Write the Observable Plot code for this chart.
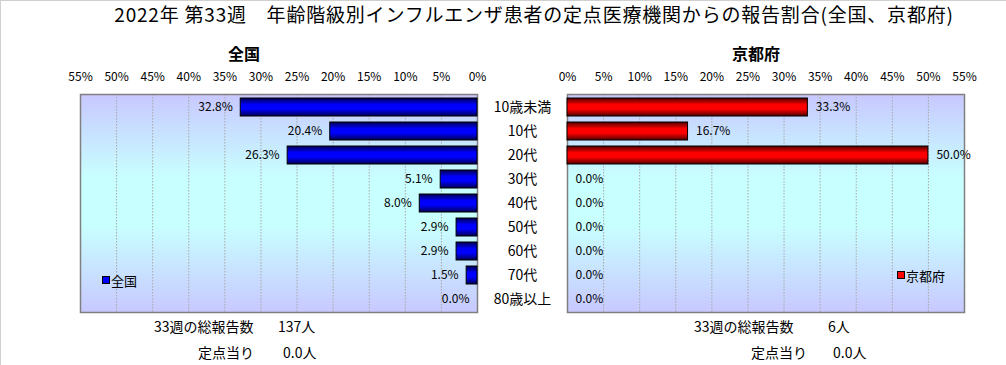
<!DOCTYPE html>
<html><head><meta charset="utf-8">
<script src="https://cdn.jsdelivr.net/npm/d3@7"></script>
<script src="https://cdn.jsdelivr.net/npm/@observablehq/plot@0.6"></script>
<style>
body{margin:0;background:#fff;font-family:"Noto Sans CJK JP","Noto Sans",sans-serif;color:#000;}
#wrap{position:relative;width:1005px;height:364px;overflow:hidden;border-left:1px solid #d0d0d0;border-top:1px solid #d0d0d0;}
.abs{position:absolute;white-space:nowrap;line-height:1;}
.plot{position:absolute;}
.sq{display:inline-block;width:6px;height:6px;border:1px solid #000;margin-right:1px;vertical-align:middle;position:relative;top:-2px;}
</style></head><body><div id="wrap"></div>
<script>
// ---- data ----
const ageGroups = ["10歳未満","10代","20代","30代","40代","50代","60代","70代","80歳以上"];
const nationalPct = [32.8, 20.4, 26.3, 5.1, 8.0, 2.9, 2.9, 1.5, 0.0];
const kyotoPct = [33.3, 16.7, 50.0, 0.0, 0.0, 0.0, 0.0, 0.0, 0.0];
const xTicks = [0, 5, 10, 15, 20, 25, 30, 35, 40, 45, 50, 55];
const titleText = "2022年 第33週\u3000年齢階級別インフルエンザ患者の定点医療機関からの報告割合(全国、京都府)";
const panelNames = ["全国", "京都府"];
const weekNo = 33;
const totalReports = [137, 6];
const perSentinel = [0.0, 0.0];

const FONT = '"Noto Sans CJK JP","Noto Sans",sans-serif';
const wrap = document.getElementById("wrap");

function addDefs(svg, grads) {
  const defs = d3.create("svg:defs");
  grads.forEach(([id, stops]) => {
    const g = defs.append("linearGradient").attr("id", id)
      .attr("x1", 0).attr("y1", 0).attr("x2", 0).attr("y2", 1);
    stops.forEach(([o, c]) => g.append("stop").attr("offset", o).attr("stop-color", c));
  });
  svg.insertBefore(defs.node(), svg.firstChild);
}
const bgStops = [[0, "#c8c8ff"], [0.38, "#c8ffff"], [0.6, "#c8ffff"], [1, "#c8c8ff"]];

function panel(values, side) {
  const rows = ageGroups.map((g, i) => ({g, v: values[i]}));
  const left = side === "left";
  const bgId = left ? "bgL" : "bgR";
  const barId = left ? "barL" : "barR";
  const marks = [
    Plot.frame({fill: `url(#${bgId})`, stroke: null}),
    Plot.ruleX(xTicks.filter(t => t > 0 && t < 55), {stroke: "#a8a8a8", strokeDasharray: "1.5,1.5", strokeWidth: 1}),
    Plot.frame({stroke: "#808080", strokeWidth: 1.5}),
    Plot.barX(rows, {x: "v", y: "g", fill: `url(#${barId})`, stroke: "#000", strokeWidth: 1}),
    Plot.text(rows, {x: "v", y: "g", text: d => d.v.toFixed(1) + "%",
      textAnchor: left ? "end" : "start", dx: left ? -8 : 8, fontSize: 12})
  ];
  if (!left) {
    marks.push(Plot.text(ageGroups, {y: d => d, frameAnchor: "left", dx: -45, textAnchor: "middle", fontSize: 14}));
  }
  const svg = Plot.plot({
    width: left ? 480 : 530,
    height: 255,
    marginLeft: left ? 79 : 90,
    marginRight: left ? 4 : 43,
    marginTop: 33,
    marginBottom: 4,
    x: {domain: [0, 55], reverse: left, axis: "top", ticks: xTicks, tickFormat: d => d + "%",
        tickSize: 0, tickPadding: 14, label: null},
    y: {domain: ageGroups, axis: null, paddingInner: 0.25, paddingOuter: 0.125},
    style: {fontFamily: FONT, fontSize: "12px", color: "#000", background: "transparent", overflow: "visible"},
    marks
  });
  const bar = left
    ? [[0, "#000050"], [0.38, "#0000ff"], [0.62, "#0000ff"], [1, "#000050"]]
    : [[0, "#500000"], [0.38, "#ff0000"], [0.62, "#ff0000"], [1, "#500000"]];
  addDefs(svg, [[bgId, bgStops], [barId, bar]]);
  svg.classList.add("plot");
  svg.style.left = (left ? 0 : 476) + "px";
  svg.style.top = "60px";
  wrap.appendChild(svg);
}
panel(nationalPct, "left");
panel(kyotoPct, "right");

function text(str, x, y, opts = {}) {
  const d = document.createElement("div");
  d.className = "abs";
  d.innerHTML = str;
  d.style.top = y + "px";
  d.style.fontSize = (opts.size || 14) + "px";
  if (opts.lh) d.style.lineHeight = opts.lh;
  if (opts.bold) d.style.fontWeight = "bold";
  if (opts.ls) d.style.letterSpacing = opts.ls + "px";
  if (opts.center) { d.style.left = x + "px"; d.style.transform = "translateX(-50%)"; }
  else d.style.left = x + "px";
  wrap.appendChild(d);
  return d;
}
text(titleText, 533, 0, {size: 19, ls: 0.8, center: true, lh: "26px"});
text(panelNames[0], 243, 44, {size: 16, bold: true, center: true});
text(panelNames[1], 755, 44, {size: 16, bold: true, center: true});

// legends
text(`<span class="sq" style="background:#0000ff"></span>${panelNames[0]}`, 101, 273, {size: 13});
text(`<span class="sq" style="background:#ff0000"></span>${panelNames[1]}`, 896, 268, {size: 13});

// footer
text(`${weekNo}週の総報告数`, 153, 318, {size: 14});
text(`${totalReports[0]}人`, 277, 318, {size: 14});
text(`定点当り`, 197, 344, {size: 14});
text(`${perSentinel[0].toFixed(1)}人`, 282, 344, {size: 14});
text(`${weekNo}週の総報告数`, 693, 318, {size: 14});
text(`${totalReports[1]}人`, 827, 318, {size: 14});
text(`定点当り`, 750, 344, {size: 14});
text(`${perSentinel[1].toFixed(1)}人`, 832, 344, {size: 14});
</script></body></html>
